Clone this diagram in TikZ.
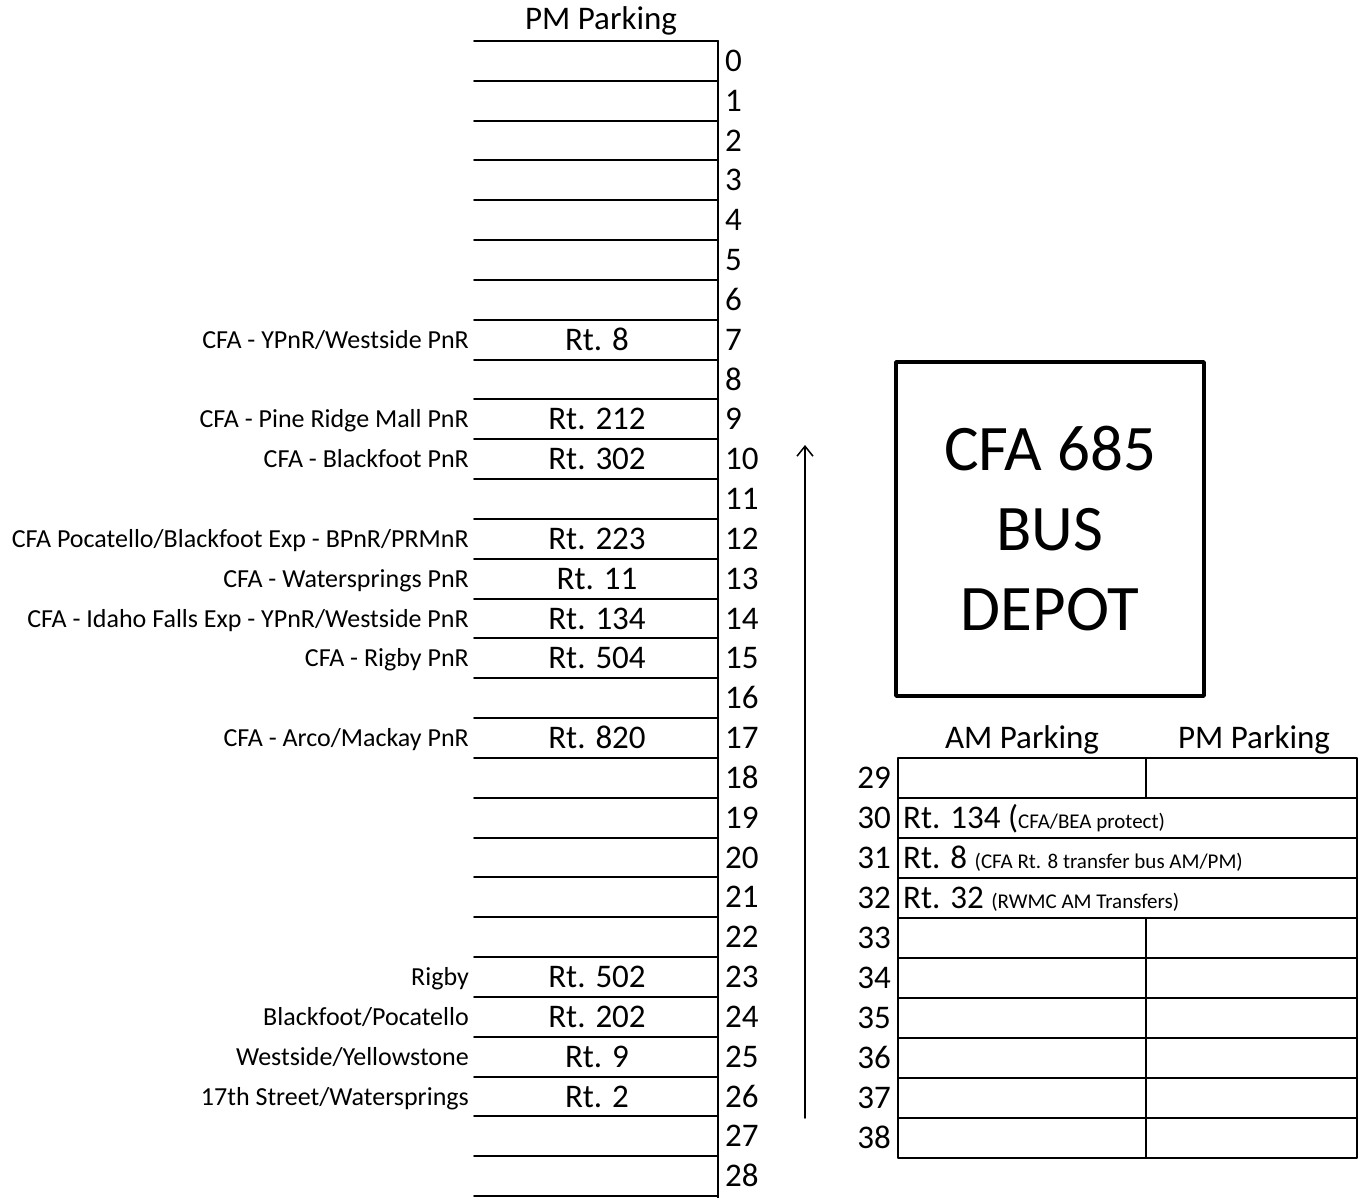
\documentclass[tikz,border=0pt]{standalone}
\usepackage{fontspec}
\setmainfont{Carlito}
\usetikzlibrary{arrows.meta}
\newcommand\bigf{\fontsize{33}{38}\selectfont}
\newcommand\labf{\fontsize{26}{30}\selectfont}
\newcommand\smf{\fontsize{21}{24}\selectfont}
\tikzset{
  num/.style={font=\bigf, inner sep=0pt, anchor=base west},
  rtnum/.style={font=\bigf, inner sep=0pt, anchor=base east},
  route/.style={font=\bigf, inner sep=0pt, anchor=base},
  stop/.style={font=\labf, inner sep=0pt, anchor=base east},
  head/.style={font=\bigf, inner sep=0pt, anchor=base},
  lane/.style={line width=2pt},
}
\begin{document}
\begin{tikzpicture}[x=1pt, y=-1pt, line join=round, line cap=round, >={Straight Barb[length=10pt,width=16pt]}]
  \useasboundingbox (0,0) rectangle (1359,1198);
  \def\p{39.83} % row pitch
  \def\xl{474}
  \def\xr{718}
  % left column
  \node[head] (pmhead) at (601,30) {PM Parking};
  \foreach \i in {0,...,29} \draw[lane] (\xl,41+\i*\p) -- (\xr,41+\i*\p);
  \draw[lane] (\xr,41) -- (\xr,1198);
  \foreach \i in {0,...,28} \node[num] (n\i) at (725,71.5+\i*\p) {\i};
  \foreach \r/\lab/\rt in {7/{CFA - YPnR/Westside PnR}/{Rt. 8},
      9/{CFA - Pine Ridge Mall PnR}/{Rt. 212},
      10/{CFA - Blackfoot PnR}/{Rt. 302},
      12/{CFA Pocatello/Blackfoot Exp - BPnR/PRMnR}/{Rt. 223},
      13/{CFA - Watersprings PnR}/{Rt. 11},
      14/{CFA - Idaho Falls Exp - YPnR/Westside PnR}/{Rt. 134},
      15/{CFA - Rigby PnR}/{Rt. 504},
      17/{CFA - Arco/Mackay PnR}/{Rt. 820},
      23/{Rigby}/{Rt. 502},
      24/{Blackfoot/Pocatello}/{Rt. 202},
      25/{Westside/Yellowstone}/{Rt. 9},
      26/{17th Street/Watersprings}/{Rt. 2}}{
    \node[stop] (lab\r) at (469,69.5+\r*\p) {\lab};
    \node[route] (rt\r) at (597,71.5+\r*\p) {\rt};
  }
  % arrow
  \coordinate (arrS) at (805,1118);
  \coordinate (arrE) at (805,445);
  \draw[->, line width=1.5pt] (arrS) -- (arrE);
  % depot
  \node[draw, line width=3.5pt, minimum width=308, minimum height=334, align=center,
        font=\fontsize{65}{80}\selectfont] (depot) at (1050,529) {CFA 685\\BUS\\DEPOT};
  % right table
  \def\ty{758}
  \node[head] (amhead) at (1022,748) {AM Parking};
  \node[head] (pmhead2) at (1254,748) {PM Parking};
  \draw[lane] (898,\ty) rectangle (1357,\ty+400);
  \foreach \i in {1,...,9} \draw[lane] (898,\ty+\i*40) -- (1357,\ty+\i*40);
  \draw[lane] (1146,\ty) -- (1146,\ty+40);
  \draw[lane] (1146,\ty+160) -- (1146,\ty+400);
  \foreach \i in {29,...,38} \node[rtnum] (m\i) at (891,\ty+30.5+\i*40-29*40) {\i};
  \node[num] (bay30) at (903,\ty+70.5) {Rt. 134 (\smf CFA/BEA protect)};
  \node[num] (bay31) at (903,\ty+110.5) {Rt. 8 \smf(CFA Rt. 8 transfer bus AM/PM)};
  \node[num] (bay32) at (903,\ty+150.5) {Rt. 32 \smf(RWMC AM Transfers)};
\end{tikzpicture}
\end{document}
